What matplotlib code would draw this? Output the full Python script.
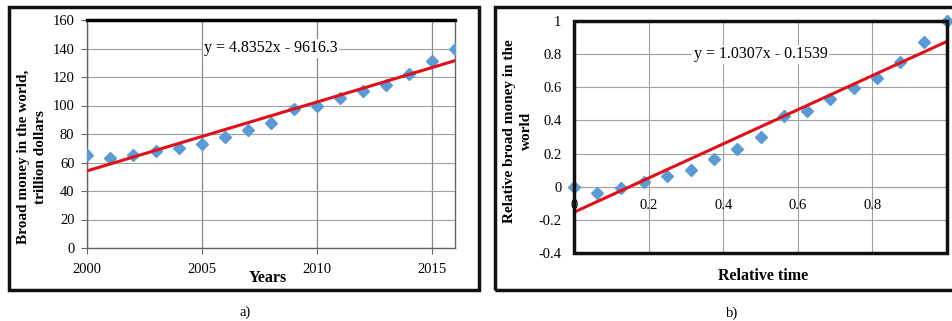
import matplotlib.pyplot as plt
from matplotlib.patches import Rectangle

plt.rcParams['font.family'] = ['Liberation Serif', 'DejaVu Serif']

# world broad money, trillion dollars
years = [2000, 2001, 2002, 2003, 2004, 2005, 2006, 2007, 2008,
         2009, 2010, 2011, 2012, 2013, 2014, 2015, 2016]
money = [65.4, 63.0, 65.0, 67.8, 70.0, 73.0, 77.8, 82.5, 87.6,
         97.7, 99.8, 105.0, 110.5, 114.7, 122.0, 131.0, 140.0]
fit_a = (4.8352, -9616.3)

# same series on relative scales
rel_time = [0, 0.0625, 0.125, 0.1875, 0.25, 0.3125, 0.375, 0.4375, 0.5,
            0.5625, 0.625, 0.6875, 0.75, 0.8125, 0.875, 0.9375, 1.0]
rel_money = [0.0, -0.036, -0.01, 0.03, 0.064, 0.10, 0.166, 0.227, 0.30,
             0.426, 0.458, 0.528, 0.596, 0.659, 0.751, 0.876, 1.0]
fit_b = (1.0307, -0.1539)

W, H = 953, 321
fig = plt.figure(figsize=(W / 100, H / 100), dpi=100)


def px_axes(x0, y0, x1, y1):
    return fig.add_axes([x0 / W, 1 - y1 / H, (x1 - x0) / W, (y1 - y0) / H])


def frame(x0, y0, x1, y1):
    fig.patches.append(Rectangle((x0 / W, 1 - y1 / H), (x1 - x0) / W, (y1 - y0) / H,
                                 transform=fig.transFigure, fill=False,
                                 lw=2.5, ec='#111111'))


blue = '#5b9bd5'
red = '#e0101a'
grid = '#a0a0a0'

# ---- a) absolute values
frame(9, 7, 479, 290)
ax = px_axes(87, 20, 455, 248)
ax.plot(years, money, 'D', color=blue, ms=6.5, zorder=3)
xs = [years[0], years[-1]]
ax.plot(xs, [fit_a[0] * x + fit_a[1] for x in xs], color=red, lw=2.2, zorder=4)
ax.set_xlim(2000, 2016)
ax.set_ylim(0, 160)
ax.set_xticks([2000, 2005, 2010, 2015])
ax.set_yticks(range(0, 161, 20))
ax.grid(True, color=grid, lw=0.8)
ax.grid(True, axis='x', color='#8a8a8a', lw=0.9)
ax.tick_params(labelsize=10.5, length=4, color='#666666', pad=5)
ax.tick_params(axis='x', pad=7)
for s in ['left', 'bottom', 'right']:
    ax.spines[s].set_color('#666666')
    ax.spines[s].set_linewidth(1)
ax.spines['top'].set_color('black')
ax.spines['top'].set_linewidth(2.5)
ax.text(2008.0, 140, 'y = 4.8352x - 9616.3', fontsize=11.5, ha='center', va='center',
        bbox=dict(fc='white', ec='none', pad=1), zorder=5)
fig.text(32 / W, 1 - 157 / H, 'Broad money in the world,\ntrillion dollars',
         rotation=90, ha='center', va='center', fontsize=11, fontweight='bold',
         multialignment='center', linespacing=1.45)
fig.text(268 / W, 1 - 278 / H, 'Years', ha='center', va='center',
         fontsize=11.5, fontweight='bold')
fig.text(245 / W, 1 - 312 / H, 'a)', ha='center', va='center', fontsize=10.5)

# ---- b) relative values
frame(495, 7, 965, 290)
bx = px_axes(574, 21, 947, 253)
bx.plot(rel_time, rel_money, 'D', color=blue, ms=6.5, zorder=3, clip_on=False)
xs = [0, 1]
bx.plot(xs, [fit_b[0] * x + fit_b[1] for x in xs], color=red, lw=2.2, zorder=4)
bx.set_xlim(0, 1)
bx.set_ylim(-0.4, 1)
bx.set_xticks([0, 0.2, 0.4, 0.6, 0.8, 1.0])
bx.set_xticklabels(['0', '0.2', '0.4', '0.6', '0.8', ''])
bx.set_yticks([-0.4, -0.2, 0, 0.2, 0.4, 0.6, 0.8, 1.0])
bx.set_yticklabels(['-0.4', '-0.2', '0', '0.2', '0.4', '0.6', '0.8', '1'])
bx.grid(True, color=grid, lw=0.8)
bx.spines['bottom'].set_position(('data', 0))
bx.spines['bottom'].set_color(grid)
bx.spines['bottom'].set_linewidth(0.8)
for s in ['left', 'top', 'right']:
    bx.spines[s].set_visible(False)
bx.add_patch(Rectangle((0, 0), 1, 1, transform=bx.transAxes, fill=False,
                       lw=2.5, ec='#111111', clip_on=False, zorder=6))
bx.tick_params(labelsize=10.5, length=0)
bx.tick_params(axis='x', pad=9)
bx.tick_params(axis='y', pad=9)
bx.text(0.5, 0.8, 'y = 1.0307x - 0.1539', fontsize=11.5, ha='center', va='center',
        bbox=dict(fc='white', ec='none', pad=1), zorder=5)
fig.text(518 / W, 1 - 131 / H, 'Relative broad money in the\nworld',
         rotation=90, ha='center', va='center', fontsize=11, fontweight='bold',
         multialignment='center', linespacing=1.45)
fig.text(763 / W, 1 - 276 / H, 'Relative time', ha='center', va='center',
         fontsize=11.5, fontweight='bold')
fig.text(732 / W, 1 - 313 / H, 'b)', ha='center', va='center', fontsize=10.5)

fig.savefig('out.png', dpi=100)
